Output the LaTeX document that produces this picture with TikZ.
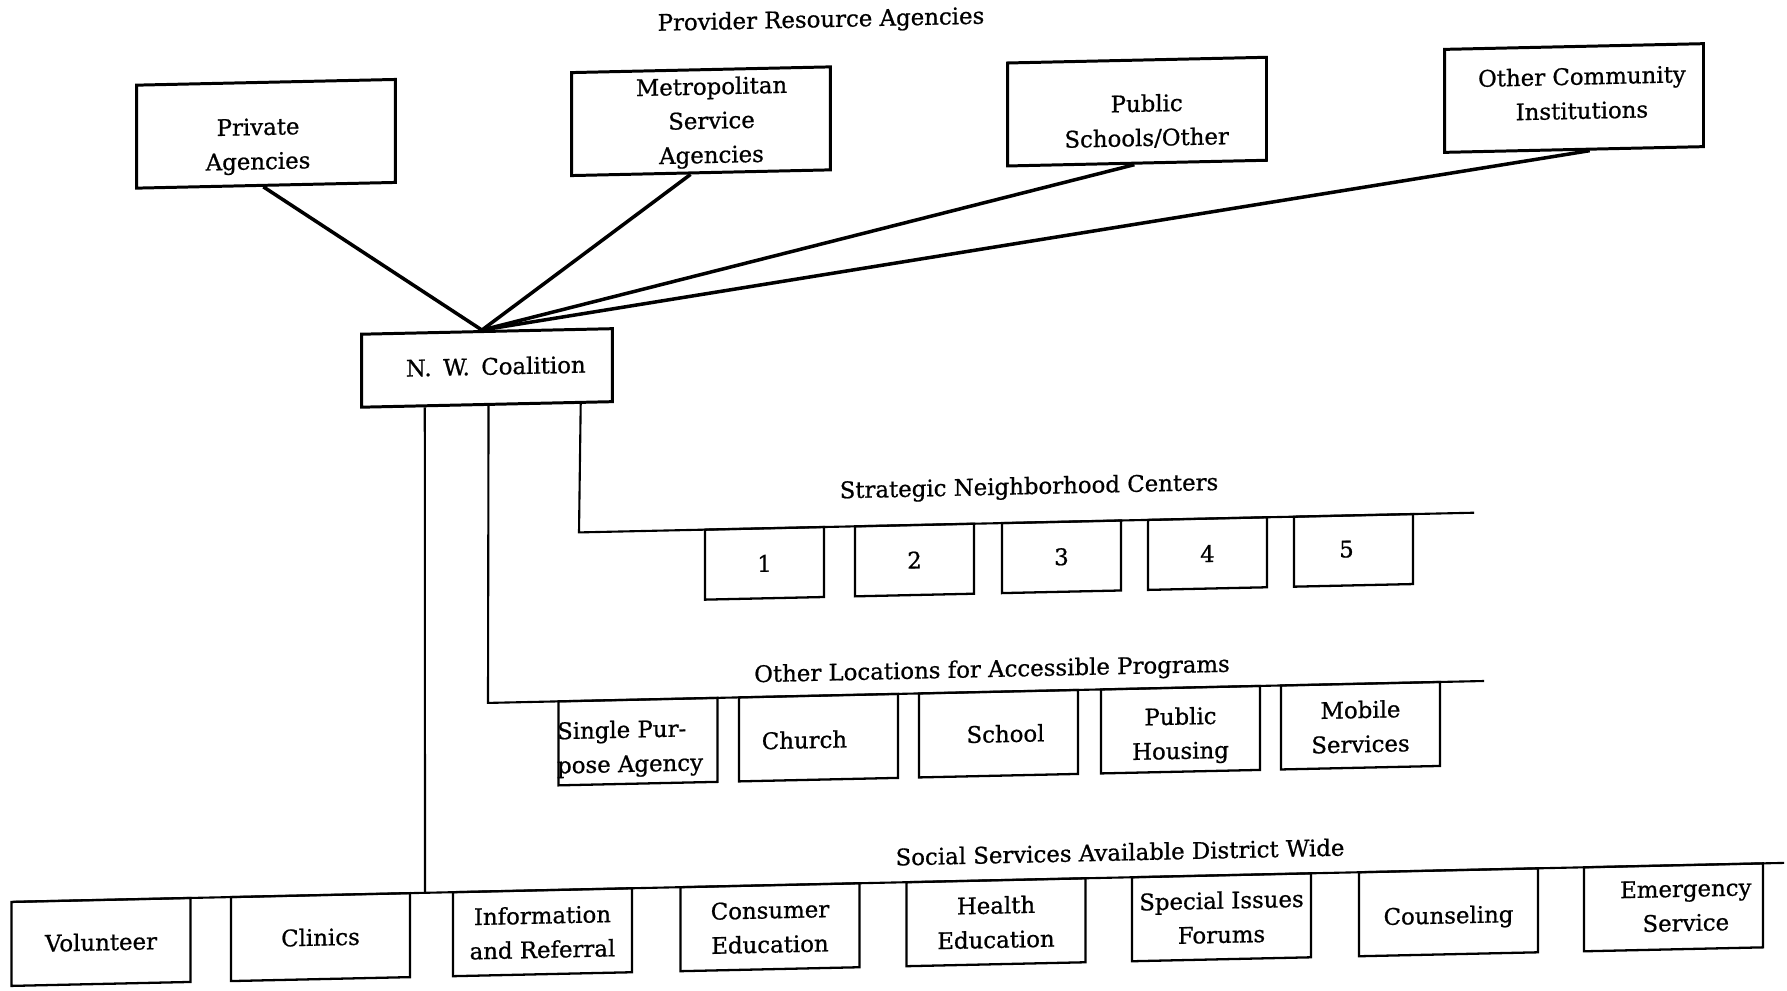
\documentclass[tikz,border=0pt]{standalone}
\usepackage{fontspec}
\setmainfont{DejaVu Serif}[FakeBold=0.8]
\usetikzlibrary{calc}
% shift box text by #2 to the right and #3 down, lines aligned by #1
\newcommand\nudge[4][c]{\hspace*{#2}\raisebox{-#3}[\height][\depth]{%
  \begin{tabular}{@{}#1@{}}#4\end{tabular}}\hspace*{-#2}}
\begin{document}
\begin{tikzpicture}[x=0.02cm,y=-0.02cm,
  captiontext/.style={font=\fontsize{13}{19.5}\selectfont,inner sep=0pt},
  unitbox/.style={draw,line width=1.3pt,align=center,inner xsep=2pt,inner ysep=0pt,
    font=\fontsize{13}{19.5}\selectfont},
  agency/.style={unitbox,line width=1.7pt,minimum width=5.18cm,minimum height=2.06cm},
  hub/.style={unitbox,line width=1.7pt,minimum width=5.02cm,minimum height=1.46cm},
  nbhd/.style={unitbox,minimum width=2.38cm,minimum height=1.4cm},
  site/.style={unitbox,minimum width=3.18cm,minimum height=1.68cm},
  service/.style={unitbox,minimum width=3.58cm,minimum height=1.68cm},
  spoke/.style={line width=2pt},
  bus/.style={line width=1.2pt},
]
\useasboundingbox (0,0) rectangle (1787,990);
\begin{scope}[shift={(893,495)},yslant=0.022,shift={(-893,-495)},transform shape]

% provider resource agencies
\node[captiontext] (title) at (821,19.5) {Provider Resource Agencies};
\node[agency] (priv)   at (266,120) {\nudge{-4.5pt}{6.5pt}{Private\\Agencies}};
\node[agency] (metro)  at (701,117) {\nudge{6pt}{0.5pt}{Metropolitan\\Service\\Agencies}};
\node[agency] (pubsch) at (1137,117) {\nudge{5.5pt}{6pt}{Public\\Schools/Other}};
\node[agency] (other)  at (1574,113) {\nudge{4.5pt}{-1.7pt}{Other Community\\Institutions}};

% the coalition
\node[hub] (coal) at (487,359) {\nudge{5pt}{0pt}{N.\enspace W.\enspace Coalition}};

\draw[spoke] ($(coal.north west)!0.48!(coal.north east)$) -- ($(priv.south west)!0.49!(priv.south east)$);
\draw[spoke] ($(coal.north west)!0.48!(coal.north east)$) -- ($(metro.south west)!0.46!(metro.south east)$);
\draw[spoke] ($(coal.north west)!0.48!(coal.north east)$) -- ($(pubsch.south west)!0.49!(pubsch.south east)$);
\draw[spoke] ($(coal.north west)!0.48!(coal.north east)$) -- ($(other.south west)!0.56!(other.south east)$);

% strategic neighborhood centers
\coordinate (sncCorner) at (579,525.5);
\coordinate (sncEnd) at (1474,525.5);
\draw[bus] ($(coal.south west)!0.869!(coal.south east)$) -- (sncCorner) -- (sncEnd);
\node[captiontext] (sncTitle) at (1029,491) {Strategic Neighborhood Centers};
\node[nbhd] (n1) at (764.5,560.5)  {1};
\node[nbhd] (n2) at (914.5,560.5)  {2};
\node[nbhd] (n3) at (1061.5,560.5) {3};
\node[nbhd] (n4) at (1207.5,560.5) {4};
\node[nbhd] (n5) at (1353.5,560.5) {\nudge{-4pt}{0pt}{5}};

% other locations
\coordinate (olCorner) at (488,694);
\coordinate (olEnd) at (1484,694);
\draw[bus] ($(coal.south west)!0.506!(coal.south east)$) -- (olCorner) -- (olEnd);
\node[captiontext] (olTitle) at (992,673) {Other Locations for Accessible Programs};
\node[site] (single)  at (638,736)    {\nudge[l]{-4.5pt}{3.5pt}{Single Pur-\\pose Agency}};
\node[site] (church)  at (818.5,736)  {\nudge{-8pt}{2pt}{Church}};
\node[site] (school)  at (998.5,736)  {\nudge{4pt}{1pt}{School}};
\node[site] (housing) at (1180.5,736) {\nudge{0pt}{3pt}{Public\\Housing}};
\node[site] (mobile)  at (1360.5,736) {\nudge{0pt}{1.5pt}{Mobile\\Services}};

% social services district wide
\coordinate (ssJoin) at (425,882.5);
\coordinate (ssLeft) at (14,882.5);
\coordinate (ssRight) at (1784,882.5);
\draw[bus] ($(coal.south west)!0.255!(coal.south east)$) -- (ssJoin);
\draw[bus] (ssLeft) -- (ssRight);
\node[captiontext] (ssTitle) at (1120,857) {Social Services Available District Wide};
\node[service] (vol)     at (101,924.5)    {Volunteer};
\node[service] (clinics) at (320.5,924.5)  {Clinics};
\node[service] (info)    at (542.5,924.5)  {Information\\and Referral};
\node[service] (consum)  at (770,924.5)    {Consumer\\Education};
\node[service] (health)  at (996,924.5)    {Health\\Education};
\node[service] (special) at (1221.5,924.5) {Special Issues\\Forums};
\node[service] (couns)   at (1448.5,924.5) {\nudge{0pt}{2.5pt}{Counseling}};
\node[service] (emerg)   at (1673.5,924.5) {\nudge{7pt}{0pt}{Emergency\\Service}};

\end{scope}
\end{tikzpicture}
\end{document}
